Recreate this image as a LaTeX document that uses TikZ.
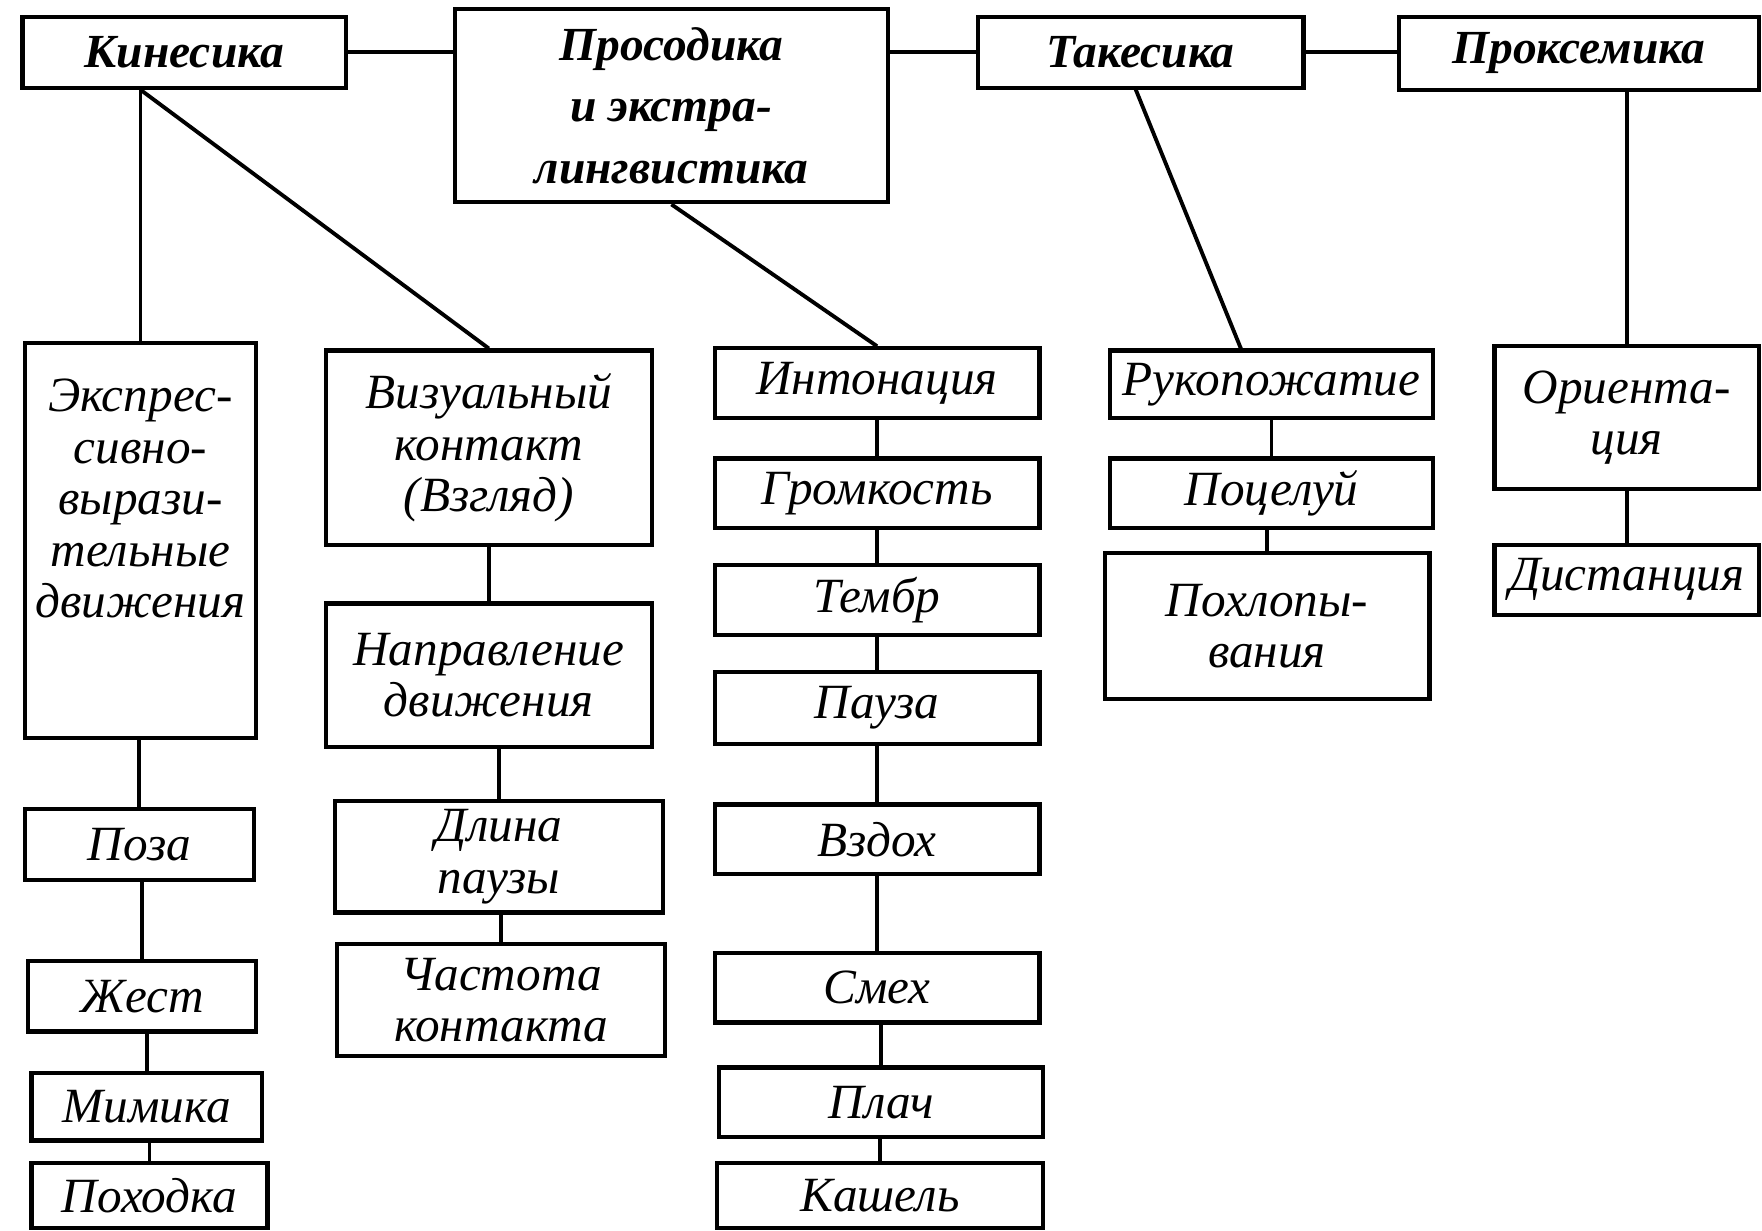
\documentclass[tikz,border=0pt]{standalone}
\usepackage{fontspec}
\setmainfont{Liberation Serif}
\usetikzlibrary{fit}

\tikzset{
  box/.style={draw=black, line width=1.2pt, inner sep=0pt},
  headtext/.style={font=\fontsize{13.5}{17.5}\selectfont\bfseries\itshape, align=center, inner sep=0pt},
  itemtext/.style={font=\fontsize{14}{14.6}\selectfont\itshape, align=center, inner sep=0pt},
  link/.style={draw=black, line width=1.1pt}
}

\begin{document}
\begin{tikzpicture}[x=0.011237cm, y=-0.011237cm]
  \useasboundingbox (0,0) rectangle (1568,1095);

  % top row
  \node[box, fit={(20,15) (308,78)}, label={[headtext]center:Кинесика}] (kin) {};
  \node[box, fit={(405,8) (790,180)}, label={[headtext]center:{Просодика\\и экстра-\\лингвистика}}] (pros) {};
  \node[box, fit={(870,15) (1160,78)}, label={[headtext]center:Такесика}] (tak) {};
  \node[box, fit={(1245,15) (1565,80)}, label={[headtext]center:Проксемика}] (prox) {};

  % kinesics
  \node[box, fit={(22,305) (228,657)}] (expr) {};
  \node[itemtext, anchor=north] (exprtext) at (125,337) {Экспрес-\\сивно-\\вырази-\\тельные\\движения};
  \node[box, fit={(22,720) (226,783)}, label={[itemtext]center:Поза}] (poza) {};
  \node[box, fit={(25,855) (228,918)}, label={[itemtext]center:Жест}] (zhest) {};
  \node[box, fit={(28,955) (233,1015)}, label={[itemtext]center:Мимика}] (mim) {};
  \node[box, fit={(28,1035) (238,1093)}, label={[itemtext]center:Походка}] (pokh) {};

  \node[box, fit={(290,312) (580,485)}, label={[itemtext]center:{Визуальный\\контакт\\(Взгляд)}}] (viz) {};
  \node[box, fit={(290,537) (580,665)}, label={[itemtext]center:{Направление\\движения}}] (napr) {};
  \node[box, fit={(298,713) (590,812)}, label={[itemtext]center:{Длина\\паузы}}] (dlina) {};
  \node[box, fit={(300,840) (592,940)}, label={[itemtext]center:{Частота\\контакта}}] (chast) {};

  % prosody
  \node[box, fit={(636,310) (925,372)}, label={[itemtext]center:Интонация}] (inton) {};
  \node[box, fit={(636,408) (925,470)}, label={[itemtext]center:Громкость}] (grom) {};
  \node[box, fit={(636,503) (925,565)}, label={[itemtext]center:Тембр}] (temb) {};
  \node[box, fit={(636,598) (925,662)}, label={[itemtext]center:Пауза}] (pauza) {};
  \node[box, fit={(636,716) (925,778)}, label={[itemtext]center:Вздох}] (vzdoh) {};
  \node[box, fit={(636,848) (925,910)}, label={[itemtext]center:Смех}] (smeh) {};
  \node[box, fit={(640,950) (928,1012)}, label={[itemtext]center:Плач}] (plach) {};
  \node[box, fit={(638,1035) (928,1093)}, label={[itemtext]center:Кашель}] (kash) {};

  % takesics
  \node[box, fit={(988,312) (1275,372)}, label={[itemtext]center:Рукопожатие}] (ruk) {};
  \node[box, fit={(988,408) (1275,470)}, label={[itemtext]center:Поцелуй}] (poc) {};
  \node[box, fit={(983,492) (1272,622)}, label={[itemtext]center:{Похлопы-\\вания}}] (pohl) {};

  % proxemics
  \node[box, fit={(1330,308) (1565,435)}, label={[itemtext]center:{Ориента-\\ция}}] (orient) {};
  \node[box, fit={(1330,485) (1565,547)}, label={[itemtext]center:Дистанция}] (dist) {};

  % links
  \draw[link] (kin.east) -- (kin.east -| pros.west);
  \draw[link] (tak.west) -- (tak.west -| pros.east);
  \draw[link] (tak.east) -- (tak.east -| prox.west);

  \coordinate (kinfoot) at (expr.north |- kin.south);
  \coordinate (takfoot) at (1010,78);
  \coordinate (rukhead) at (1105,312);
  \draw[link] (kinfoot) -- (expr.north);
  \draw[link] (kinfoot) -- (viz.north);
  \draw[link] (pros.south) -- (inton.north);
  \draw[link] (takfoot) -- (rukhead);
  \draw[link] (orient.north) -- (orient.north |- prox.south);

  \foreach \a/\b in {expr/poza, poza/zhest, zhest/mim, mim/pokh,
                     viz/napr, napr/dlina, dlina/chast,
                     inton/grom, grom/temb, temb/pauza, pauza/vzdoh,
                     vzdoh/smeh, smeh/plach, plach/kash,
                     ruk/poc, poc/pohl, orient/dist}
    \draw[link] (\b.north) -- (\b.north |- \a.south);
\end{tikzpicture}
\end{document}
